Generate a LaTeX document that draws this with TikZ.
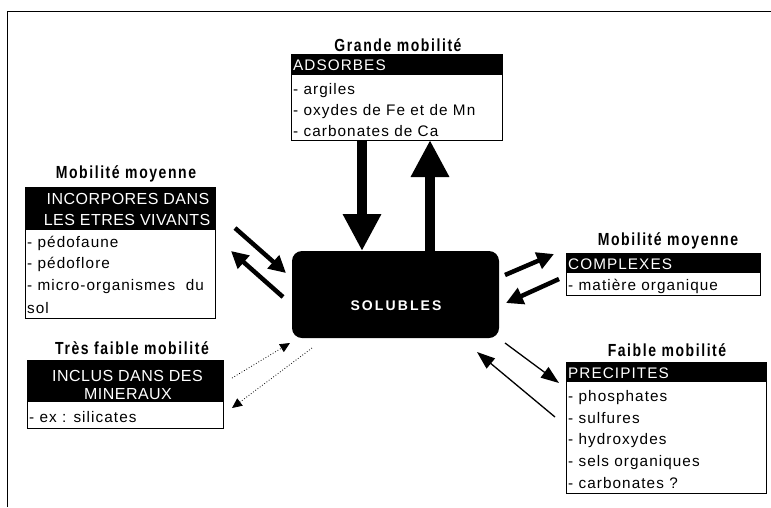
\documentclass[tikz,border=0pt]{standalone}
\usepackage{fontspec}
\setmainfont{Liberation Sans}
\newfontfamily\titlefont[FakeStretch=0.8]{Liberation Sans Bold}
\usetikzlibrary{arrows.meta}
\tikzset{
  box/.style={draw=black, line width=0.8pt, fill=white},
  head/.style={fill=black},
  item/.style={anchor=base west, inner sep=0pt, font=\fontsize{15.3}{17}\selectfont\addfontfeature{LetterSpace=7}},
  hdr/.style={item, text=white},
  hdrc/.style={anchor=base, inner sep=0pt, text=white, font=\fontsize{16}{18}\selectfont\addfontfeature{LetterSpace=3}},
  ttl/.style={anchor=base, inner sep=0pt, font=\titlefont\fontsize{17.5}{19}\selectfont\addfontfeature{LetterSpace=9}},
  fat/.style={line width=10pt, -{Triangle[width=36pt,length=37pt]}},
  mid/.style={line width=4.5pt, -{Triangle[width=17pt,length=17pt]}},
  thin/.style={line width=1.3pt, -{Triangle[width=13pt,length=18pt]}},
  dots/.style={line width=0.8pt, dotted, -{Triangle[width=9pt,length=10pt]}},
}
\begin{document}
\begin{tikzpicture}[x=1pt,y=-1pt]
\useasboundingbox (0,0) rectangle (771,507);
\fill[white] (0,0) rectangle (771,507);
% frame
\draw[line width=0.8pt] (7,507) -- (7,11) -- (771,11);

% ---- top box ADSORBES
\node[ttl] (t1) at (398,51) {Grande mobilité};
\draw[box] (291,54) rectangle (502,140);
\fill[head] (291,54) rectangle (502,75);
\node[hdr] (h1) at (293,70.5) {ADSORBES};
\node[item] (a1) at (293,94) {- argiles};
\node[item] (a2) at (293,115) {- oxydes de Fe et de Mn};
\node[item] (a3) at (293,136) {- carbonates de Ca};

% ---- left box INCORPORES
\node[ttl] (t2) at (126,178) {Mobilité moyenne};
\draw[box] (25,187) rectangle (215,318);
\fill[head] (25,187) rectangle (215,230);
\node[hdrc] (h2a) at (128,204) {INCORPORES DANS};
\node[hdrc] (h2b) at (127,225) {LES ETRES VIVANTS};
\node[item] (l1) at (27,247) {- pédofaune};
\node[item] (l2) at (27,268.5) {- pédoflore};
\node[item] (l3) at (27,290.5) {- micro-organismes\ \ du};
\node[item] (l4) at (27,313) {sol};

% ---- bottom-left box INCLUS
\node[ttl] (t3) at (132,354) {Très faible mobilité};
\draw[box] (27,360) rectangle (223,428);
\fill[head] (27,360) rectangle (223,402);
\node[hdrc] (h3a) at (127.5,381) {INCLUS DANS DES};
\node[hdrc] (h3b) at (128,399) {MINERAUX};
\node[item] (m1) at (29,422) {- ex : silicates};

% ---- right box COMPLEXES
\node[ttl] (t4) at (668,245) {Mobilité moyenne};
\draw[box] (566,253) rectangle (760,295);
\fill[head] (566,253) rectangle (760,273);
\node[hdr] (h4) at (568,269) {COMPLEXES};
\node[item] (c1) at (568,290) {- matière organique};

% ---- bottom-right box PRECIPITES
\node[ttl] (t5) at (667,356) {Faible mobilité};
\draw[box] (566,362) rectangle (766,493);
\fill[head] (566,362) rectangle (766,382);
\node[hdr] (h5) at (568,378) {PRECIPITES};
\node[item] (p1) at (568,401) {- phosphates};
\node[item] (p2) at (568,423) {- sulfures};
\node[item] (p3) at (568,444.5) {- hydroxydes};
\node[item] (p4) at (568,466.5) {- sels organiques};
\node[item] (p5) at (568,488) {- carbonates ?};

% ---- central node SOLUBLES
\fill[black, rounded corners=10pt] (292,251) rectangle (499,338);
\node[anchor=base, inner sep=0pt, text=white, font=\bfseries\fontsize{14}{16}\selectfont\addfontfeature{LetterSpace=15}] (s) at (396,310) {SOLUBLES};

% ---- arrow end points
\coordinate (u1) at (362,140);
\coordinate (u2) at (362,251);
\coordinate (v1) at (430,251);
\coordinate (v2) at (430,140);

\coordinate (la1) at (235,228);
\coordinate (la2) at (286,273);
\coordinate (lb1) at (283,297);
\coordinate (lb2) at (231,251);

\coordinate (ra1) at (505,275);
\coordinate (ra2) at (554,254);
\coordinate (rb1) at (559,279);
\coordinate (rb2) at (506,303);

\coordinate (pa1) at (505,343);
\coordinate (pa2) at (559,383);
\coordinate (pb1) at (555,417);
\coordinate (pb2) at (477,352);

\coordinate (da1) at (232,378);
\coordinate (da2) at (290,343);
\coordinate (db1) at (312,348);
\coordinate (db2) at (232,408);

% ---- arrows
\draw[fat] (u1) -- (u2);
\draw[fat] (v1) -- (v2);
\draw[mid] (la1) -- (la2);
\draw[mid] (lb1) -- (lb2);
\draw[mid] (ra1) -- (ra2);
\draw[mid] (rb1) -- (rb2);
\draw[thin] (pa1) -- (pa2);
\draw[thin] (pb1) -- (pb2);
\draw[dots] (da1) -- (da2);
\draw[dots] (db1) -- (db2);
\end{tikzpicture}
\end{document}
